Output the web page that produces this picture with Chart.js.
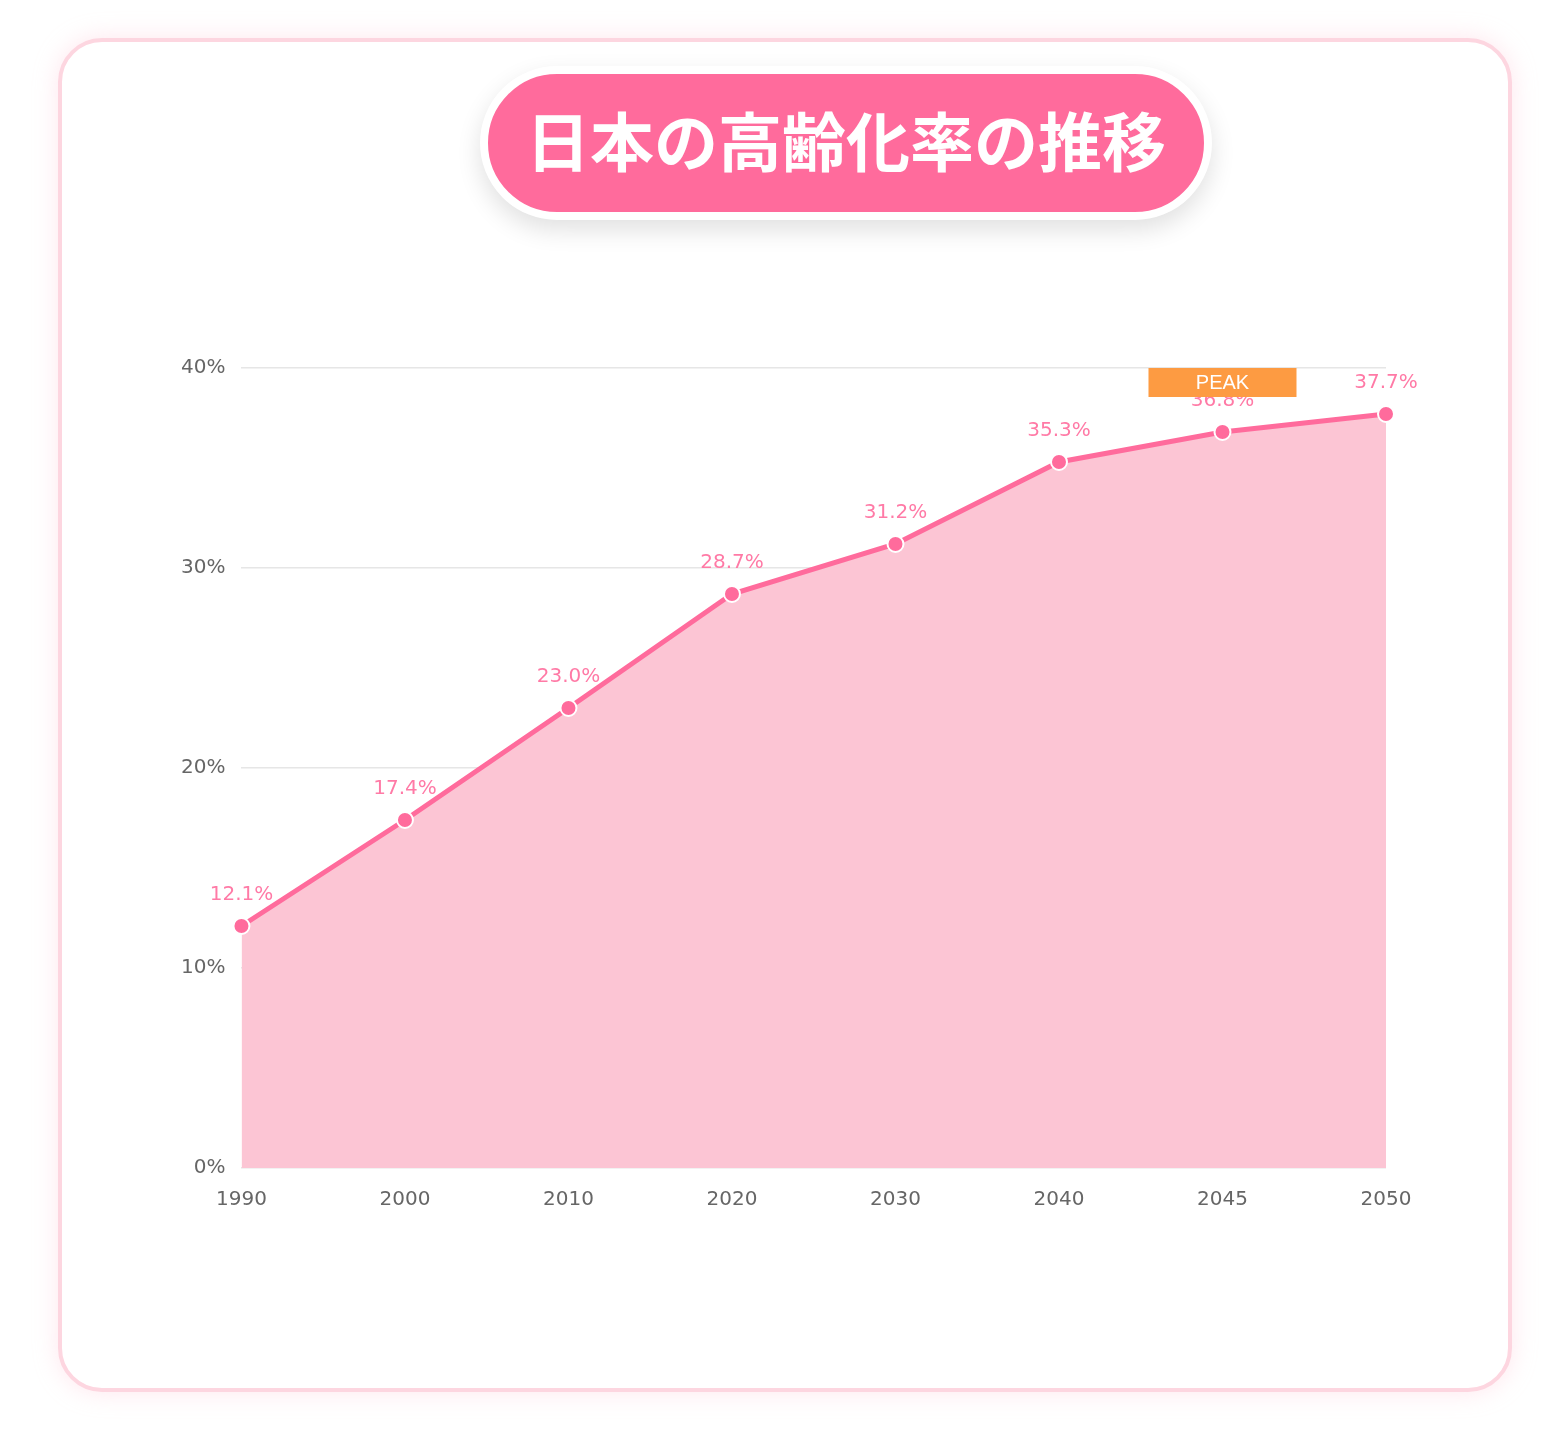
<!DOCTYPE html>
<html lang="ja">
<head>
<meta charset="utf-8">
<script src="https://cdn.jsdelivr.net/npm/chart.js@4"></script>
<style>
  html, body { margin: 0; padding: 0; background: #ffffff; }
  body { width: 1550px; height: 1451px; position: relative; overflow: hidden; }
  .card {
    position: absolute; left: 58px; top: 38px; width: 1446px; height: 1346px;
    border: 4px solid #fdd6e0; border-radius: 44px; background: #ffffff;
    box-shadow: 0 0 24px rgba(255, 182, 203, 0.35);
  }
  .title {
    position: absolute; left: 480px; top: 66px; width: 716px; height: 138px;
    border: 8px solid #ffffff; border-radius: 80px; background: #ff6b9c;
    box-shadow: 0 10px 24px rgba(0, 0, 0, 0.12);
    color: #ffffff; font-family: "Noto Sans CJK JP", sans-serif; font-weight: 700;
    font-size: 64px; line-height: 128px; text-align: center; letter-spacing: 0px;
  }
  #wrap { position: absolute; left: 151px; top: 340px; width: 1289px; height: 901px; }
</style>
</head>
<body>
<div class="card"></div>
<div class="title">日本の高齢化率の推移</div>
<div id="wrap"><canvas id="myChart"></canvas></div>
<script>
const years = ['1990', '2000', '2010', '2020', '2030', '2040', '2045', '2050'];
const rates = [12.1, 17.4, 23.0, 28.7, 31.2, 35.3, 36.8, 37.7];
const yTicks = [0, 10, 20, 30, 40];
const peakLabel = 'PEAK';
const peakYear = '2045';

const pink = '#ff6b9c';

// value labels above each point (drawn under the line like the original)
const valueLabels = {
  id: 'valueLabels',
  beforeDatasetsDraw(chart) {
    const ctx = chart.ctx;
    const meta = chart.getDatasetMeta(0);
    ctx.save();
    ctx.font = '20px "DejaVu Sans"';
    ctx.fillStyle = '#ff7aa6';
    ctx.textAlign = 'center';
    ctx.textBaseline = 'middle';
    meta.data.forEach((pt, i) => {
      ctx.fillText(rates[i].toFixed(1) + '%', pt.x, pt.y - 31);
    });
    ctx.restore();
  }
};

const peakBox = {
  id: 'peakBox',
  afterDraw(chart) {
    const ctx = chart.ctx;
    const x = chart.scales.x.getPixelForValue(years.indexOf(peakYear));
    const y = chart.scales.y.getPixelForValue(yTicks[yTicks.length - 1]);
    ctx.save();
    ctx.fillStyle = '#fd9b42';
    ctx.fillRect(x - 74, y, 148, 29);
    ctx.font = '20px "Liberation Sans"';
    ctx.fillStyle = '#ffffff';
    ctx.textAlign = 'center';
    ctx.textBaseline = 'middle';
    ctx.fillText(peakLabel, x, y + 15);
    ctx.restore();
  }
};

const ctx = document.getElementById('myChart').getContext('2d');
new Chart(ctx, {
  type: 'line',
  data: {
    labels: years,
    datasets: [{
      data: rates,
      borderColor: pink,
      backgroundColor: 'rgba(252, 197, 212, 1)',
      borderWidth: 5,
      fill: 'origin',
      tension: 0,
      pointRadius: 8,
      pointBackgroundColor: pink,
      pointBorderColor: '#ffffff',
      pointBorderWidth: 2
    }]
  },
  options: {
    responsive: true,
    maintainAspectRatio: false,
    animation: false,
    layout: { padding: { left: 14, right: 54, top: 22, bottom: 9 } },
    plugins: { legend: { display: false }, tooltip: { enabled: false } },
    scales: {
      x: {
        offset: false,
        grid: { display: false, drawTicks: false },
        border: { display: false },
        ticks: { color: '#666666', font: { family: 'DejaVu Sans', size: 20 }, padding: 20, maxRotation: 0 }
      },
      y: {
        min: 0, max: 40,
        afterBuildTicks(axis) { axis.ticks = yTicks.map(v => ({ value: v })); },
        grid: { color: '#e6e6e6', lineWidth: 1.5, drawTicks: false },
        border: { display: false },
        ticks: {
          color: '#666666', font: { family: 'DejaVu Sans', size: 20 }, padding: 16,
          callback: v => v + '%'
        }
      }
    }
  },
  plugins: [valueLabels, peakBox]
});
</script>
</body>
</html>
